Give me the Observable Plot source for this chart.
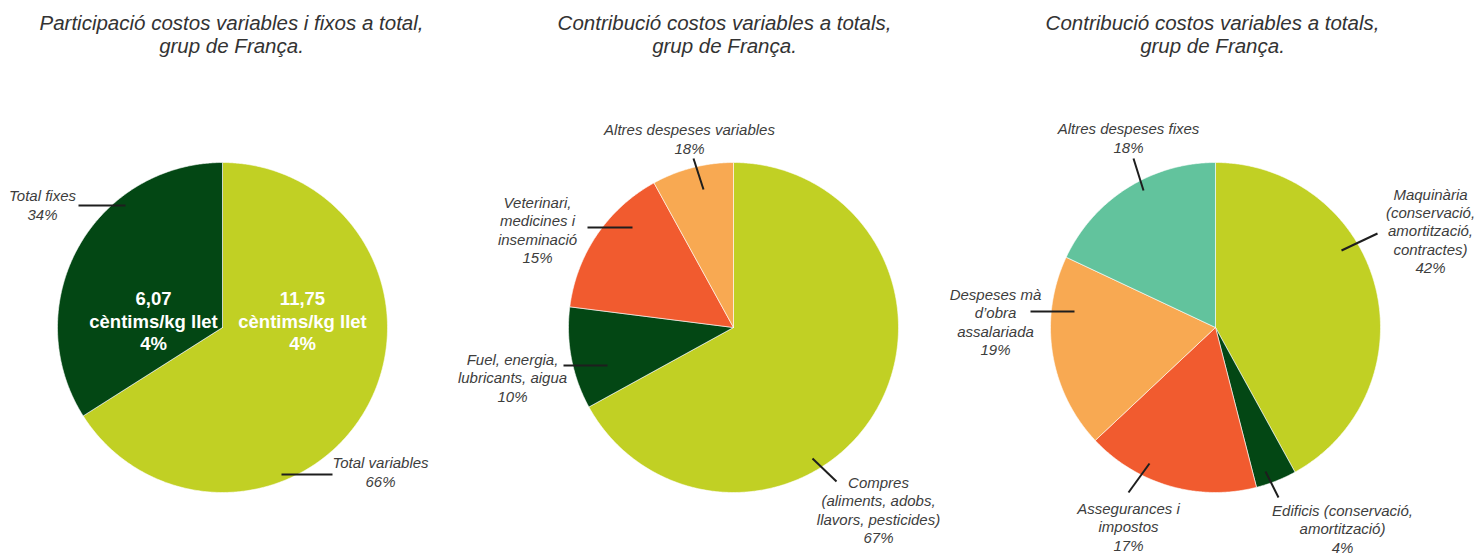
<!DOCTYPE html>
<html>
<head>
<meta charset="utf-8">
<script src="https://cdn.jsdelivr.net/npm/d3@7"></script>
<script src="https://cdn.jsdelivr.net/npm/@observablehq/plot@0.6"></script>
<style>
  html, body { margin: 0; padding: 0; background: #ffffff; }
  #chart svg { display: block; }
</style>
</head>
<body>
<div id="chart"></div>
<script>
// ---------- DATA ----------
const titles = [
  "Participació costos variables i fixos a total,\ngrup de França.",
  "Contribució costos variables a totals,\ngrup de França.",
  "Contribució costos variables a totals,\ngrup de França."
];

// Pie 1
const pie1Categories = ["Total variables", "Total fixes"];
const pie1Values = [66, 34];
const pie1Percent = ["66%", "34%"];
const pie1Cents = ["11,75", "6,07"];
const pie1Unit = ["cèntims/kg llet", "cèntims/kg llet"];
const pie1InnerPercent = ["4%", "4%"];

// Pie 2
const pie2Categories = [
  "Compres\n(aliments, adobs,\nllavors, pesticides)",
  "Fuel, energia,\nlubricants, aigua",
  "Veterinari,\nmedicines i\ninseminació",
  "Altres despeses variables"
];
const pie2Values = [67, 10, 15, 8];
const pie2Percent = ["67%", "10%", "15%", "18%"];

// Pie 3
const pie3Categories = [
  "Maquinària\n(conservació,\namortització,\ncontractes)",
  "Edificis (conservació,\namortització)",
  "Assegurances i\nimpostos",
  "Despeses mà\nd’obra\nassalariada",
  "Altres despeses fixes"
];
const pie3Values = [42, 4, 17, 19, 18];
const pie3Percent = ["42%", "4%", "17%", "19%", "18%"];

// ---------- STYLE / LAYOUT ----------
const W = 1484, H = 553;
const C = {
  lime: "#c1d024",
  dark: "#034714",
  red: "#f15b2f",
  orange: "#f8a952",
  teal: "#62c39d"
};
const pieColors = [
  [C.lime, C.dark],
  [C.lime, C.dark, C.red, C.orange],
  [C.lime, C.dark, C.red, C.orange, C.teal]
];
const pieGeom = [
  {cx: 222, cy: 327, r: 165},
  {cx: 733, cy: 327, r: 165},
  {cx: 1215, cy: 327, r: 165}
];
const titlePos = [{x: 231, y: 34}, {x: 724, y: 34}, {x: 1212, y: 34}];

// label block centers and leader lines, per pie per slice
const labelPos = [
  [{x: 380, y: 471}, {x: 42, y: 204}],
  [{x: 878, y: 509}, {x: 512, y: 377}, {x: 537, y: 229}, {x: 689, y: 138}],
  [{x: 1430, y: 230}, {x: 1342, y: 528}, {x: 1128, y: 526}, {x: 995, y: 321}, {x: 1128, y: 137}]
];
const leaderPos = [
  [[281, 474, 332, 474], [78, 205, 125, 205]],
  [[812, 458, 836, 481], [563, 365, 607, 365], [587, 227, 632, 227], [693, 158, 703, 189]],
  [[1341, 250, 1377, 233], [1265, 471, 1278, 497], [1149, 463, 1128, 492], [1030, 311, 1074, 311], [1133, 158, 1143, 190]]
];
const innerPos = [{x: 302, y: 320}, {x: 153, y: 320}];

// ---------- BUILD ----------
const allValues = [pie1Values, pie2Values, pie3Values];
const allCats = [pie1Categories, pie2Categories, pie3Categories];
const allPct = [pie1Percent, pie2Percent, pie3Percent];

const slicePts = [];
allValues.forEach((vals, p) => {
  const {cx, cy, r} = pieGeom[p];
  const arcs = d3.pie().sort(null)(vals);
  arcs.forEach((a, i) => {
    const key = p + "-" + i;
    const fill = pieColors[p][i];
    slicePts.push({key, x: cx, y: cy, fill});
    const n = Math.max(2, Math.ceil((a.endAngle - a.startAngle) / (Math.PI / 360)));
    for (let k = 0; k <= n; k++) {
      const t = a.startAngle + (a.endAngle - a.startAngle) * k / n;
      slicePts.push({key, x: cx + r * Math.sin(t), y: cy - r * Math.cos(t), fill});
    }
    slicePts.push({key, x: cx, y: cy, fill});
  });
});

const labels = [];
const leaders = [];
allCats.forEach((cats, p) => {
  cats.forEach((c, i) => {
    labels.push({x: labelPos[p][i].x, y: labelPos[p][i].y, text: c + "\n" + allPct[p][i]});
    const [x1, y1, x2, y2] = leaderPos[p][i];
    leaders.push({x1, y1, x2, y2});
  });
});

const inner = pie1Cents.map((v, i) => ({
  x: innerPos[i].x, y: innerPos[i].y,
  text: v + "\n" + pie1Unit[i] + "\n" + pie1InnerPercent[i]
}));

const titleData = titles.map((t, i) => ({x: titlePos[i].x, y: titlePos[i].y, text: t}));

const chart = Plot.plot({
  width: W,
  height: H,
  margin: 0,
  x: {domain: [0, W], range: [0, W], axis: null},
  y: {domain: [0, H], range: [0, H], axis: null},
  color: {type: "identity"},
  style: {fontFamily: "'Liberation Sans', Arial, sans-serif", background: "#ffffff", overflow: "visible"},
  marks: [
    Plot.line(slicePts, {x: "x", y: "y", z: "key", fill: "fill", stroke: "#ffffff", strokeWidth: 0.6, curve: "linear"}),
    Plot.link(leaders, {x1: "x1", y1: "y1", x2: "x2", y2: "y2", stroke: "#1e1e1e", strokeWidth: 2}),
    Plot.text(labels, {x: "x", y: "y", text: "text", fontSize: 15, fontStyle: "italic", lineHeight: 1.22, fill: "#3d3d3d"}),
    Plot.text(inner, {x: "x", y: "y", text: "text", fontSize: 18.5, fontWeight: "bold", lineHeight: 1.22, fill: "#ffffff"}),
    Plot.text(titleData, {x: "x", y: "y", text: "text", fontSize: 20.5, fontStyle: "italic", lineHeight: 1.12, fill: "#333333"})
  ]
});
document.getElementById("chart").appendChild(chart);
</script>
</body>
</html>
